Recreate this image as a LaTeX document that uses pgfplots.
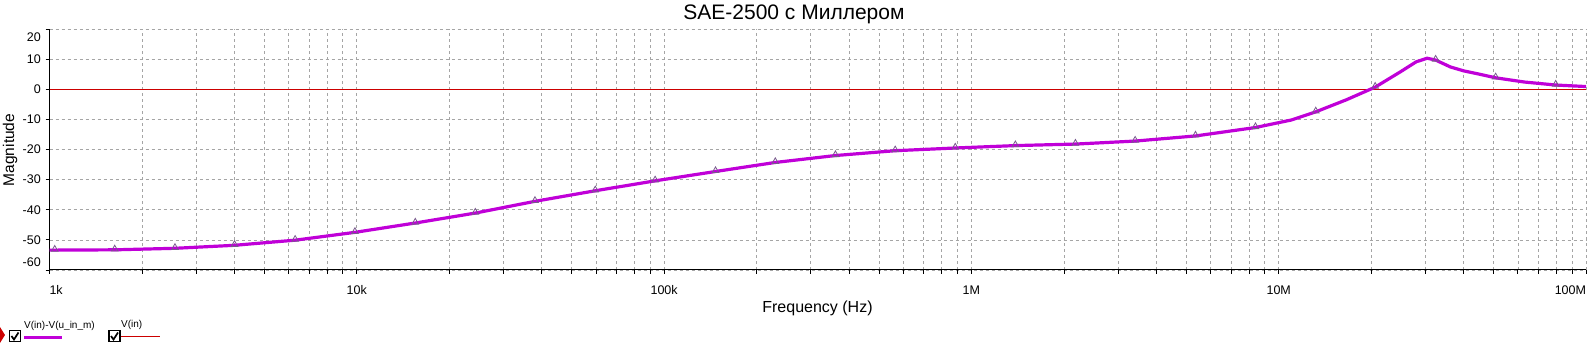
\documentclass[border=0pt]{standalone}
\usepackage{fontspec}
\setmainfont{Liberation Sans}
\usepackage{pgfplots}
\pgfplotsset{compat=1.18}
\usepackage{pgfplotstable}
\definecolor{curve}{RGB}{192,0,216}
\definecolor{refred}{RGB}{204,0,0}
\definecolor{markcol}{RGB}{120,90,140}
\definecolor{gridcol}{RGB}{165,165,165}

\pgfplotstableread{
f dB
1000 -53.4
1040 -53.4
1630 -53.3
2560 -52.8
4000 -51.8
6300 -50.1
9860 -47.5
15500 -44.4
24300 -41.1
38000 -37.2
59700 -33.7
93500 -30.4
147000 -27.3
230000 -24.3
361000 -22.0
565000 -20.4
886000 -19.5
1390000 -18.7
2180000 -18.2
3410000 -17.2
5360000 -15.5
8400000 -12.7
11000000 -10.2
13200000 -7.5
16600000 -3.5
20600000 0.7
24900000 5.8
28000000 9.1
30400000 10.3
32400000 9.7
36200000 7.4
40000000 6.1
45000000 5.0
50800000 3.8
63000000 2.4
79700000 1.4
100000000 0.9
}\curvetab

\pgfplotstableread{
f dB
1040 -53.4
1630 -53.3
2560 -52.8
4000 -51.8
6300 -50.1
9860 -47.5
15500 -44.4
24300 -41.1
38000 -37.2
59700 -33.7
93500 -30.4
147000 -27.3
230000 -24.3
361000 -22.0
565000 -20.4
886000 -19.5
1390000 -18.7
2180000 -18.2
3410000 -17.2
5360000 -15.5
8400000 -12.7
13200000 -7.5
20600000 0.7
32400000 9.7
50800000 3.8
79700000 1.4
}\marktab

\begin{document}
\begin{tikzpicture}
\path[use as bounding box] (-49.5pt,-83pt) rectangle (1540.5pt,270pt);
\begin{axis}[
  at={(0pt,0pt)}, anchor=south west,
  scale only axis, width=1536.5pt, height=241pt,
  xmode=log, log basis x=10,
  xmin=1e3, xmax=1e8, ymin=-60, ymax=20,
  axis x line*=bottom, axis y line*=left,
  axis line style={black, line width=1pt, -},
  xtick={1e3,1e4,1e5,1e6,1e7,1e8},
  xticklabels={\makebox[0pt][l]{1k},10k,100k,1M,10M,\makebox[0pt][r]{100M}},
  minor xtick={2e3,3e3,4e3,5e3,6e3,7e3,8e3,9e3,
               2e4,3e4,4e4,5e4,6e4,7e4,8e4,9e4,
               2e5,3e5,4e5,5e5,6e5,7e5,8e5,9e5,
               2e6,3e6,4e6,5e6,6e6,7e6,8e6,9e6,
               2e7,3e7,4e7,5e7,6e7,7e7,8e7,9e7},
  ytick={-60,-50,-40,-30,-20,-10,0,10,20},
  yticklabels={\raisebox{3.7pt}[0pt][0pt]{-60},-50,-40,-30,-20,-10,0,10,\raisebox{-12pt}[0pt][0pt]{20}},
  tick align=outside,
  major tick length=4pt, minor tick length=4pt,
  tick style={black, line width=0.8pt},
  xmajorgrids, xminorgrids, ymajorgrids,
  major grid style={gridcol, line width=0.7pt, dash pattern=on 3pt off 3pt},
  minor grid style={gridcol, line width=0.7pt, dash pattern=on 3pt off 3pt},
  xticklabel style={font=\fontsize{12.5}{14}\selectfont, anchor=base, inner sep=0pt, yshift=-20.2pt},
  yticklabel style={font=\fontsize{12.5}{14}\selectfont, anchor=east, inner sep=0pt, xshift=-4.5pt},
  clip=false,
]
\addplot[refred, line width=1pt] coordinates {(1e3,0) (1e8,0)};
\addplot[curve, line width=3.2pt, line join=round, no markers] table[x=f, y=dB] {\curvetab};
\addplot[only marks, mark=triangle, mark size=3.8pt, mark options={draw=markcol, line width=0.8pt, fill=none, yshift=0.8pt}] table[x=f, y=dB] {\marktab};
\end{axis}
% title and axis labels
\node[anchor=base, font=\fontsize{21}{25}\selectfont] at (744.5pt,250pt) {SAE-2500 с Миллером};
\node[rotate=90, font=\fontsize{15.5}{18}\selectfont] at (-39.5pt,120pt) {Magnitude};
\node[anchor=base, font=\fontsize{16}{19}\selectfont] at (768pt,-43pt) {Frequency (Hz)};
% legend
\fill[refred] (-49.5pt,-57pt) -- (-49.5pt,-73pt) -- (-44.5pt,-65pt) -- cycle;
\draw[black, line width=1.3pt] (-40pt,-60.5pt) rectangle (-29pt,-71.5pt);
\draw[black, line width=1.7pt] (-38pt,-66pt) -- (-35.5pt,-69.5pt) -- (-31pt,-62.5pt);
\node[anchor=west, inner sep=0pt, font=\fontsize{10}{12}\selectfont] at (-25.5pt,-56pt) {V(in)-V(u\_in\_m)};
\draw[curve, line width=2.5pt] (-25.5pt,-67.7pt) -- (12.5pt,-67.7pt);
\draw[black, line width=1.3pt] (59.5pt,-60.5pt) rectangle (70.5pt,-71.5pt);
\draw[black, line width=1.7pt] (61.5pt,-66pt) -- (64pt,-69.5pt) -- (68.5pt,-62.5pt);
\node[anchor=west, inner sep=0pt, font=\fontsize{10}{12}\selectfont] at (71.5pt,-55pt) {V(in)};
\draw[refred, line width=1pt] (71.5pt,-67pt) -- (110.5pt,-67pt);
\end{tikzpicture}
\end{document}
